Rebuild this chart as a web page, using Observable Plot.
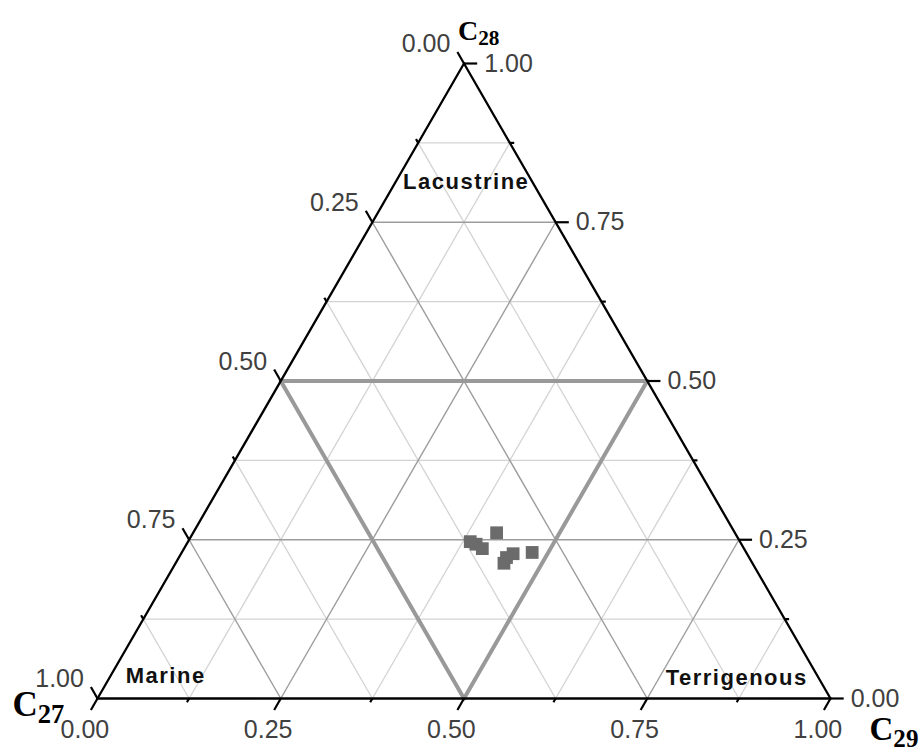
<!DOCTYPE html>
<html>
<head>
<meta charset="utf-8">
<script src="https://cdn.jsdelivr.net/npm/d3@7"></script>
<script src="https://cdn.jsdelivr.net/npm/@observablehq/plot@0.6"></script>
<style>
  body { margin: 0; background: #fff; }
  #chart svg { display: block; }
</style>
</head>
<body>
<div id="chart"></div>
<script>
// ---- data (ternary compositions, fractions) ----
const sampleC27 = [0.368, 0.362, 0.357, 0.325, 0.319, 0.331, 0.339, 0.292];
const sampleC28 = [0.247, 0.243, 0.236, 0.261, 0.228, 0.222, 0.213, 0.230];
const sampleC29 = [0.385, 0.395, 0.407, 0.414, 0.453, 0.447, 0.448, 0.478];

const gridValues = [0.125, 0.25, 0.375, 0.625, 0.75, 0.875];
const majorTickValues = [0, 0.25, 0.5, 0.75, 1];
const majorTickLabels = ["0.00", "0.25", "0.50", "0.75", "1.00"];
const minorTickValues = [0.125, 0.375, 0.625, 0.875];

const regionNames = ["Lacustrine", "Marine", "Terrigenous"];
const regionC28 = [0.814, 0.036, 0.032];
const regionC29 = [0.096, 0.075, 0.856];

const vertexNames = ["C27", "C28", "C29"];

// ---- helpers ----
const SQ = Math.sqrt(3) / 2;
const px = (c28, c29) => c29 + c28 / 2;
const py = (c28) => c28 * SQ;
const seg = (a28, a29, b28, b29, extra = {}) => ({
  x1: px(a28, a29), y1: py(a28), x2: px(b28, b29), y2: py(b28), ...extra
});

const samples = sampleC28.map((c28, i) => ({ c27: sampleC27[i], c28, c29: sampleC29[i] }));

const gridLines = [];
for (const v of gridValues) {
  const major = Math.abs((v / 0.25) - Math.round(v / 0.25)) < 1e-9;
  gridLines.push(seg(v, 0, v, 1 - v, { major }));          // constant C28
  gridLines.push(seg(0, v, 1 - v, v, { major }));          // constant C29
  gridLines.push(seg(0, 1 - v, 1 - v, 0, { major }));      // constant C27
}
const h = 0.5;
const innerLines = [seg(h, 0, h, 1 - h), seg(0, h, 1 - h, h), seg(0, 1 - h, 1 - h, 0)];
const edges = [seg(0, 0, 0, 1), seg(0, 0, 1, 0), seg(1, 0, 0, 1)];

const LMAJ = 0.018, LMIN = 0.006;
const ticks = [];
const leftLabels = [], rightLabels = [], bottomLabels = [];
function addTicks(v, L, label) {
  const l = seg(1 - v, 0, 1 - v + L, -L);   // left axis: C27 = v on edge C29 = 0
  const r = seg(v, 1 - v, v, 1 - v + L);    // right axis: C28 = v on edge C27 = 0
  const b = seg(0, v, -L, v);               // bottom axis: C29 = v on edge C28 = 0
  ticks.push(l, r, b);
  if (label) {
    leftLabels.push({ x: l.x2, y: l.y2, label });
    rightLabels.push({ x: r.x2, y: r.y2, label });
    bottomLabels.push({ x: b.x2, y: b.y2, label });
  }
}
majorTickValues.forEach((v, i) => addTicks(v, LMAJ, majorTickLabels[i]));
minorTickValues.forEach(v => addTicks(v, LMIN, null));

const regions = regionNames.map((name, i) => ({ name, x: px(regionC28[i], regionC29[i]), y: py(regionC28[i]) }));

const vertexPos = [seg(0, 0, 0, 0), seg(1, 0, 1, 0), seg(0, 1, 0, 1)];
const titleOffsets = [[-85, 17], [-6, -24], [39, 41]];
const titleSizes = [35, 28, 33];
const titles = vertexNames.map((name, i) => ({ name, x: vertexPos[i].x1, y: vertexPos[i].y1, dx: titleOffsets[i][0], dy: titleOffsets[i][1], size: titleSizes[i] }));

const labelFont = "Liberation Sans, Arial, sans-serif";
const labelStyle = { fontFamily: labelFont, fontSize: 25, fill: "#404040" };

const marks = [
  Plot.link(gridLines.filter(d => !d.major), { x1: "x1", y1: "y1", x2: "x2", y2: "y2", stroke: "#d3d3d3", strokeWidth: 1.3 }),
  Plot.link(gridLines.filter(d => d.major), { x1: "x1", y1: "y1", x2: "x2", y2: "y2", stroke: "#9c9c9c", strokeWidth: 1.4 }),
  Plot.link(innerLines, { x1: "x1", y1: "y1", x2: "x2", y2: "y2", stroke: "#999999", strokeWidth: 4, strokeLinecap: "round" }),
  Plot.link(edges, { x1: "x1", y1: "y1", x2: "x2", y2: "y2", stroke: "#000", strokeWidth: 2.3, strokeLinecap: "round" }),
  Plot.link(ticks, { x1: "x1", y1: "y1", x2: "x2", y2: "y2", stroke: "#000", strokeWidth: 2.2 }),
  Plot.dot(samples, { x: d => px(d.c28, d.c29), y: d => py(d.c28), symbol: "square", r: 7.2, fill: "#6b6b6b", stroke: "none" }),
  Plot.text(leftLabels, { x: "x", y: "y", text: "label", textAnchor: "end", lineAnchor: "middle", dx: -7, dy: -8, ...labelStyle }),
  Plot.text(rightLabels, { x: "x", y: "y", text: "label", textAnchor: "start", lineAnchor: "middle", dx: 7, dy: 0, ...labelStyle }),
  Plot.text(bottomLabels, { x: "x", y: "y", text: "label", textAnchor: "middle", lineAnchor: "middle", dx: -6, dy: 20, ...labelStyle }),
  Plot.text(regions, { x: "x", y: "y", text: "name", textAnchor: "middle", lineAnchor: "middle", fontFamily: labelFont, fontWeight: "bold", fontSize: 22, fill: "#111" }),
  ...titles.map(t => Plot.text([t], { x: "x", y: "y", text: "name", textAnchor: "start", lineAnchor: "bottom", dx: t.dx, dy: t.dy, fontFamily: "Liberation Serif, Times New Roman, serif", fontWeight: "bold", fontSize: t.size, fill: "#000" }))
];

const chart = Plot.plot({
  width: 922,
  height: 755,
  marginLeft: 97,
  marginRight: 92,
  marginTop: 63,
  marginBottom: 57,
  x: { domain: [0, 1], axis: null },
  y: { domain: [0, SQ], axis: null },
  marks
});

const svg = d3.select(chart);
// Vertex titles: "C" with subscript number, kept in the same text element
svg.selectAll("text").each(function () {
  const el = d3.select(this);
  const txt = el.text();
  if (vertexNames.includes(txt)) {
    el.text(null);
    el.append("tspan").text(txt.slice(0, 1));
    el.append("tspan").attr("font-size", "0.76em").attr("dy", "0.28em").text(txt.slice(1));
  } else if (regionNames.includes(txt)) {
    el.attr("letter-spacing", "1.5px");
  }
});

document.getElementById("chart").appendChild(chart);
</script>
</body>
</html>
